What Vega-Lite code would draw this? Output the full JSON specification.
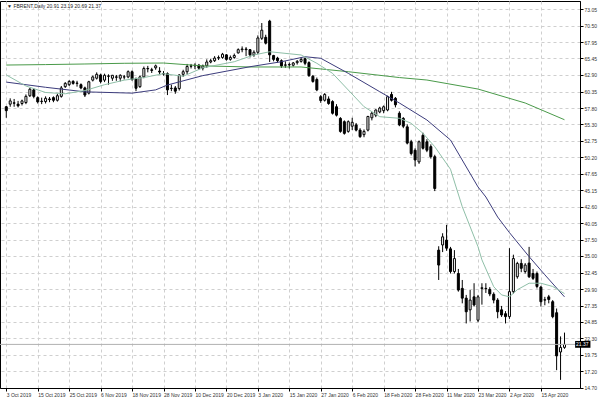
{
"$schema": "https://vega.github.io/schema/vega-lite/v6.json",
"width": 580, "height": 387,
"autosize": {"type": "none"},
"padding": {"left": 0, "top": 1, "right": 20, "bottom": 12},
"background": "white",
"config": {"view": {"stroke": "#000", "strokeWidth": 1}, "font": "Liberation Sans"},
"datasets": {
"candles": [
{"i":0,"o":58.0,"h":58.1,"l":56.3,"c":57.4},{"i":1,"o":58.4,"h":59.3,"l":58.0,"c":58.9},{"i":2,"o":58.6,"h":59.2,"l":58.0,"c":58.55},{"i":3,"o":58.4,"h":58.9,"l":57.9,"c":58.15},{"i":4,"o":58.5,"h":59.1,"l":58.2,"c":58.9},{"i":5,"o":58.65,"h":59.9,"l":58.4,"c":59.6},{"i":6,"o":59.7,"h":60.9,"l":59.5,"c":60.7},{"i":7,"o":60.6,"h":60.8,"l":59.3,"c":59.6},{"i":8,"o":59.4,"h":59.6,"l":58.5,"c":58.75},{"i":9,"o":58.8,"h":59.4,"l":58.4,"c":58.85},
{"i":10,"o":58.8,"h":59.6,"l":58.5,"c":59.3},{"i":11,"o":59.2,"h":59.5,"l":58.7,"c":59.1},{"i":12,"o":59.4,"h":59.6,"l":58.7,"c":59.0},{"i":13,"o":59.0,"h":60.0,"l":58.8,"c":59.7},{"i":14,"o":59.6,"h":61.2,"l":59.4,"c":60.9},{"i":15,"o":61.1,"h":61.8,"l":60.9,"c":61.6},{"i":16,"o":61.4,"h":62.1,"l":61.2,"c":61.9},{"i":17,"o":61.9,"h":62.1,"l":61.4,"c":61.6},{"i":18,"o":61.6,"h":62.0,"l":61.1,"c":61.65},{"i":19,"o":61.4,"h":61.6,"l":60.7,"c":60.9},
{"i":20,"o":60.9,"h":61.1,"l":59.5,"c":59.8},{"i":21,"o":60.1,"h":62.0,"l":59.9,"c":61.85},{"i":22,"o":62.1,"h":62.8,"l":61.9,"c":62.6},{"i":23,"o":62.4,"h":63.3,"l":62.2,"c":63.0},{"i":24,"o":62.9,"h":63.1,"l":61.6,"c":61.9},{"i":25,"o":62.1,"h":63.1,"l":61.8,"c":62.85},{"i":26,"o":62.75,"h":63.0,"l":61.4,"c":62.7},{"i":27,"o":62.4,"h":62.9,"l":62.0,"c":62.85},{"i":28,"o":62.6,"h":62.9,"l":62.0,"c":62.55},{"i":29,"o":62.4,"h":63.0,"l":61.9,"c":62.85},
{"i":30,"o":62.6,"h":62.9,"l":62.2,"c":62.6},{"i":31,"o":62.6,"h":63.6,"l":62.4,"c":63.4},{"i":32,"o":63.4,"h":63.6,"l":62.0,"c":62.2},{"i":33,"o":62.3,"h":62.5,"l":60.4,"c":60.85},{"i":34,"o":61.1,"h":62.8,"l":60.9,"c":62.6},{"i":35,"o":62.6,"h":64.2,"l":62.4,"c":63.9},{"i":36,"o":63.9,"h":64.3,"l":63.3,"c":63.85},{"i":37,"o":63.7,"h":64.0,"l":63.2,"c":63.6},{"i":38,"o":64.0,"h":64.5,"l":63.7,"c":64.3},{"i":39,"o":63.5,"h":64.1,"l":63.0,"c":63.35},
{"i":40,"o":63.1,"h":63.5,"l":62.8,"c":63.05},{"i":41,"o":63.1,"h":63.3,"l":59.8,"c":60.6},{"i":42,"o":60.8,"h":61.4,"l":60.4,"c":60.85},{"i":43,"o":60.9,"h":61.2,"l":60.0,"c":60.4},{"i":44,"o":60.8,"h":63.0,"l":60.5,"c":62.9},{"i":45,"o":63.0,"h":63.7,"l":62.6,"c":63.4},{"i":46,"o":63.4,"h":64.6,"l":63.0,"c":64.2},{"i":47,"o":64.3,"h":64.6,"l":63.9,"c":64.25},{"i":48,"o":64.3,"h":64.7,"l":63.8,"c":64.4},{"i":49,"o":64.4,"h":64.6,"l":63.7,"c":63.95},
{"i":50,"o":63.95,"h":64.5,"l":63.6,"c":64.3},{"i":51,"o":64.3,"h":65.3,"l":64.0,"c":64.9},{"i":52,"o":64.9,"h":65.4,"l":64.7,"c":65.1},{"i":53,"o":65.1,"h":65.8,"l":64.9,"c":65.5},{"i":54,"o":65.5,"h":65.9,"l":65.2,"c":65.6},{"i":55,"o":65.6,"h":66.3,"l":65.4,"c":66.1},{"i":56,"o":66.0,"h":66.1,"l":65.1,"c":65.3},{"i":57,"o":65.3,"h":65.9,"l":65.1,"c":65.6},{"i":58,"o":65.6,"h":66.2,"l":65.4,"c":65.9},{"i":59,"o":66.3,"h":67.0,"l":66.2,"c":66.8},
{"i":60,"o":66.8,"h":67.3,"l":66.4,"c":66.9},{"i":61,"o":66.9,"h":67.2,"l":65.8,"c":66.8},{"i":62,"o":66.8,"h":66.9,"l":65.6,"c":66.0},{"i":63,"o":66.0,"h":66.7,"l":65.7,"c":66.4},{"i":64,"o":66.4,"h":69.0,"l":66.1,"c":68.6},{"i":65,"o":68.55,"h":70.9,"l":68.3,"c":69.8},{"i":66,"o":68.7,"h":69.1,"l":67.6,"c":67.8},{"i":67,"o":71.2,"h":71.4,"l":64.9,"c":66.0},{"i":68,"o":65.9,"h":66.0,"l":65.0,"c":65.3},{"i":69,"o":65.5,"h":65.7,"l":64.8,"c":65.1},
{"i":70,"o":65.1,"h":65.3,"l":64.0,"c":64.3},{"i":71,"o":64.4,"h":65.0,"l":64.0,"c":64.45},{"i":72,"o":64.5,"h":64.8,"l":63.9,"c":64.45},{"i":73,"o":64.4,"h":64.9,"l":64.2,"c":64.75},{"i":74,"o":64.8,"h":65.2,"l":64.5,"c":65.0},{"i":75,"o":65.0,"h":65.6,"l":64.8,"c":65.3},{"i":76,"o":65.4,"h":65.6,"l":64.4,"c":64.7},{"i":77,"o":64.8,"h":65.0,"l":62.6,"c":62.8},{"i":78,"o":62.7,"h":62.9,"l":61.7,"c":61.9},{"i":79,"o":62.2,"h":62.5,"l":60.4,"c":60.6},
{"i":80,"o":59.55,"h":59.8,"l":58.6,"c":58.95},{"i":81,"o":59.0,"h":60.1,"l":58.8,"c":59.9},{"i":82,"o":59.2,"h":59.6,"l":58.3,"c":58.5},{"i":83,"o":58.8,"h":59.0,"l":56.8,"c":57.0},{"i":84,"o":58.0,"h":58.4,"l":56.5,"c":56.7},{"i":85,"o":56.2,"h":56.4,"l":54.0,"c":54.2},{"i":86,"o":55.7,"h":55.9,"l":53.7,"c":53.9},{"i":87,"o":54.2,"h":55.9,"l":54.0,"c":55.7},{"i":88,"o":55.0,"h":56.3,"l":54.4,"c":55.6},{"i":89,"o":55.2,"h":55.5,"l":54.2,"c":54.4},
{"i":90,"o":54.4,"h":54.7,"l":53.2,"c":53.4},{"i":91,"o":53.7,"h":54.5,"l":53.3,"c":54.2},{"i":92,"o":54.4,"h":56.6,"l":54.2,"c":56.5},{"i":93,"o":56.3,"h":57.2,"l":55.9,"c":57.0},{"i":94,"o":56.7,"h":57.6,"l":56.4,"c":57.5},{"i":95,"o":57.2,"h":58.0,"l":57.0,"c":57.8},{"i":96,"o":57.4,"h":58.2,"l":57.0,"c":58.0},{"i":97,"o":57.5,"h":59.7,"l":57.3,"c":59.55},{"i":98,"o":59.9,"h":60.3,"l":58.8,"c":59.0},{"i":99,"o":59.3,"h":59.5,"l":57.9,"c":58.3},
{"i":100,"o":57.0,"h":57.3,"l":55.0,"c":55.2},{"i":101,"o":56.2,"h":56.4,"l":54.7,"c":55.0},{"i":102,"o":54.9,"h":55.3,"l":52.2,"c":52.4},{"i":103,"o":52.6,"h":52.9,"l":50.5,"c":50.8},{"i":104,"o":51.3,"h":51.6,"l":48.8,"c":49.8},{"i":105,"o":49.5,"h":52.8,"l":49.2,"c":52.6},{"i":106,"o":53.6,"h":54.0,"l":51.4,"c":51.6},{"i":107,"o":52.6,"h":53.0,"l":51.0,"c":51.3},{"i":108,"o":51.85,"h":52.2,"l":50.0,"c":50.3},{"i":109,"o":50.3,"h":50.6,"l":45.0,"c":45.4},
{"i":110,"o":35.9,"h":36.5,"l":31.3,"c":33.6},{"i":111,"o":36.7,"h":38.5,"l":35.6,"c":37.95},{"i":112,"o":37.45,"h":39.8,"l":35.8,"c":36.2},{"i":113,"o":36.1,"h":36.4,"l":32.3,"c":32.6},{"i":114,"o":32.6,"h":35.9,"l":32.3,"c":34.6},{"i":115,"o":32.3,"h":33.0,"l":29.5,"c":29.75},{"i":116,"o":30.0,"h":31.3,"l":27.7,"c":28.5},{"i":117,"o":28.5,"h":29.0,"l":24.6,"c":26.4},{"i":118,"o":26.7,"h":29.75,"l":24.9,"c":28.2},{"i":119,"o":28.7,"h":30.8,"l":27.2,"c":27.45},
{"i":120,"o":25.1,"h":29.0,"l":24.8,"c":28.7},{"i":121,"o":30.0,"h":30.8,"l":27.5,"c":30.1},{"i":122,"o":30.0,"h":30.8,"l":29.3,"c":29.95},{"i":123,"o":29.85,"h":30.2,"l":28.8,"c":29.15},{"i":124,"o":29.1,"h":29.4,"l":27.7,"c":28.2},{"i":125,"o":28.2,"h":28.5,"l":25.4,"c":26.4},{"i":126,"o":26.7,"h":27.3,"l":25.6,"c":25.9},{"i":127,"o":26.1,"h":26.5,"l":24.6,"c":25.65},{"i":128,"o":25.65,"h":36.2,"l":25.3,"c":29.5},{"i":129,"o":29.5,"h":35.2,"l":29.2,"c":34.6},
{"i":130,"o":31.8,"h":34.1,"l":31.5,"c":33.85},{"i":131,"o":33.85,"h":34.5,"l":32.5,"c":33.1},{"i":132,"o":32.6,"h":33.9,"l":32.3,"c":33.6},{"i":133,"o":33.9,"h":36.4,"l":31.6,"c":31.8},{"i":134,"o":32.3,"h":33.0,"l":31.3,"c":31.55},{"i":135,"o":32.3,"h":32.6,"l":30.0,"c":30.3},{"i":136,"o":30.2,"h":30.4,"l":27.2,"c":27.95},{"i":137,"o":28.2,"h":28.7,"l":27.4,"c":28.25},{"i":138,"o":28.7,"h":29.0,"l":27.7,"c":28.3},{"i":139,"o":27.95,"h":28.2,"l":25.4,"c":25.65},
{"i":140,"o":26.25,"h":26.9,"l":17.4,"c":19.6},{"i":141,"o":20.2,"h":22.6,"l":15.9,"c":20.9},{"i":142,"o":20.91,"h":23.19,"l":20.69,"c":21.37}
],
"ma": [
{"s":"g","i":0,"v":64.43},{"s":"g","i":10,"v":64.5},{"s":"g","i":20,"v":64.59},{"s":"g","i":30,"v":64.7},{"s":"g","i":40,"v":64.74},{"s":"g","i":50,"v":64.3},{"s":"g","i":62,"v":64.13},{"s":"g","i":75,"v":64.13},{"s":"g","i":87,"v":63.4},{"s":"g","i":100,"v":62.5},{"s":"g","i":107,"v":62.12},{"s":"g","i":120,"v":60.73},{"s":"g","i":132,"v":58.58},{"s":"g","i":142,"v":56.0},
{"s":"n","i":0,"v":61.8},{"s":"n","i":10,"v":61.0},{"s":"n","i":20,"v":60.3},{"s":"n","i":32,"v":60.1},{"s":"n","i":38,"v":60.6},{"s":"n","i":41,"v":61.35},{"s":"n","i":50,"v":62.8},{"s":"n","i":62,"v":64.17},{"s":"n","i":70,"v":64.94},{"s":"n","i":76,"v":65.71},{"s":"n","i":80,"v":65.47},{"s":"n","i":87,"v":63.15},{"s":"n","i":95,"v":60.32},{"s":"n","i":100,"v":58.58},{"s":"n","i":107,"v":55.96},{"s":"n","i":113,"v":52.88},{"s":"n","i":120,"v":45.64},{"s":"n","i":122,"v":44.09},{"s":"n","i":125,"v":41.0},{"s":"n","i":128,"v":38.6},{"s":"n","i":133,"v":34.9},{"s":"n","i":137,"v":32.1},{"s":"n","i":142,"v":28.7},
{"s":"f","i":0,"v":62.9},{"s":"f","i":5,"v":61.2},{"s":"f","i":10,"v":60.2},{"s":"f","i":15,"v":60.0},{"s":"f","i":20,"v":60.5},{"s":"f","i":25,"v":61.4},{"s":"f","i":30,"v":62.1},{"s":"f","i":35,"v":62.5},{"s":"f","i":40,"v":63.1},{"s":"f","i":45,"v":62.7},{"s":"f","i":50,"v":64.0},{"s":"f","i":58,"v":64.94},{"s":"f","i":63,"v":65.98},{"s":"f","i":67,"v":66.48},{"s":"f","i":75,"v":65.98},{"s":"f","i":79,"v":64.7},{"s":"f","i":83,"v":63.15},{"s":"f","i":87,"v":60.58},{"s":"f","i":91,"v":58.01},{"s":"f","i":95,"v":56.47},{"s":"f","i":100,"v":56.22},{"s":"f","i":103,"v":55.45},{"s":"f","i":106,"v":53.91},{"s":"f","i":109,"v":51.84},{"s":"f","i":113,"v":48.37},{"s":"f","i":116,"v":42.59},{"s":"f","i":120,"v":36.43},{"s":"f","i":121,"v":34.4},{"s":"f","i":124,"v":30.26},{"s":"f","i":126,"v":29.0},{"s":"f","i":128,"v":28.7},{"s":"f","i":130,"v":29.8},{"s":"f","i":133,"v":30.8},{"s":"f","i":136,"v":30.8},{"s":"f","i":139,"v":30.3},{"s":"f","i":142,"v":29.2}
]
},
"layer": [
{
"data": {"name": "candles"},
"mark": {"type": "rule", "color": "#000", "strokeWidth": 1},
"encoding": {
"x": {"field": "i", "type": "quantitative", "scale": {"domain": [-0.325, 144.675], "nice": false, "zero": false},
"axis": {"title": null, "tickCount": 500, "values": [0,8,16,24,32,40,48,56,64,72,80,88,96,104,112,120,128,136],
"labelExpr": "['3 Oct 2019','15 Oct 2019','25 Oct 2019','6 Nov 2019','18 Nov 2019','28 Nov 2019','10 Dec 2019','20 Dec 2019','3 Jan 2020','15 Jan 2020','27 Jan 2020','6 Feb 2020','18 Feb 2020','28 Feb 2020','11 Mar 2020','23 Mar 2020','2 Apr 2020','15 Apr 2020'][round(datum.value/8)]",
"grid": true, "gridColor": "#cfcfcf", "gridDash": [3,3], "gridWidth": 1,
"tickSize": 3, "tickColor": "#000", "domainColor": "#000", "labelFontSize": 5, "labelAlign": "left", "labelBaseline": "top", "labelPadding": 1, "labelColor": "#333", "labelFlush": false, "labelOverlap": false}},
"y": {"field": "l", "type": "quantitative", "scale": {"domain": [14.65, 74.30], "nice": false, "zero": false},
"axis": {"title": null, "orient": "right", "tickCount": 500, "values": [73.05,70.50,67.95,65.45,62.90,60.35,57.80,55.30,52.75,50.20,47.65,45.15,42.60,40.05,37.50,35.00,32.45,29.90,27.35,24.85,22.30,19.75,17.20,14.70],
"format": ".2f", "grid": true, "gridColor": "#cfcfcf", "gridDash": [3,3], "gridWidth": 1,
"tickSize": 3, "tickColor": "#000", "domainColor": "#000", "labelFontSize": 5, "labelPadding": 1, "labelColor": "#333", "labelOverlap": false, "labelFlush": false}},
"y2": {"field": "h"}
}
},
{
"data": {"name": "candles"},
"mark": {"type": "bar", "size": 2, "stroke": "#000", "strokeWidth": 1},
"encoding": {
"x": {"field": "i", "type": "quantitative"},
"y": {"field": "o", "type": "quantitative"},
"y2": {"field": "c"},
"fill": {"condition": {"test": "datum.c < datum.o", "value": "#000"}, "value": "#fff"}
}
},
{
"data": {"name": "ma"},
"mark": {"type": "line", "strokeWidth": 1},
"encoding": {
"x": {"field": "i", "type": "quantitative"},
"y": {"field": "v", "type": "quantitative"},
"color": {"field": "s", "type": "nominal", "scale": {"domain": ["g","n","f"], "range": ["#4a9a4a","#3c3c7c","#8fbfa8"]}, "legend": null}
}
},
{
"data": {"values": [{"p": 21.37}]},
"mark": {"type": "rule", "color": "#b0b0b0", "strokeWidth": 1},
"encoding": {"y": {"field": "p", "type": "quantitative"}}
},
{
"data": {"values": [{"x1": 144.7, "x2": 148.6, "y1": 20.85, "y2": 21.9}]},
"mark": {"type": "rect", "color": "#000"},
"encoding": {"x": {"field": "x1", "type": "quantitative"}, "x2": {"field": "x2"}, "y": {"field": "y1", "type": "quantitative"}, "y2": {"field": "y2"}}
},
{
"data": {"values": [{"x": 144.95, "p": 21.37, "t": "21.37"}]},
"mark": {"type": "text", "color": "#fff", "fontSize": 5, "align": "left", "baseline": "middle"},
"encoding": {"x": {"field": "x", "type": "quantitative"}, "y": {"field": "p", "type": "quantitative"}, "text": {"field": "t"}}
},
{
"data": {"values": [{"x": 0.2, "p": 73.55, "t": "▼ FBRENT,Daily  20.91 23.19 20.69 21.37"}]},
"mark": {"type": "text", "color": "#222", "fontSize": 5, "align": "left", "baseline": "middle"},
"encoding": {"x": {"field": "x", "type": "quantitative"}, "y": {"field": "p", "type": "quantitative"}, "text": {"field": "t"}}
}
]
}
